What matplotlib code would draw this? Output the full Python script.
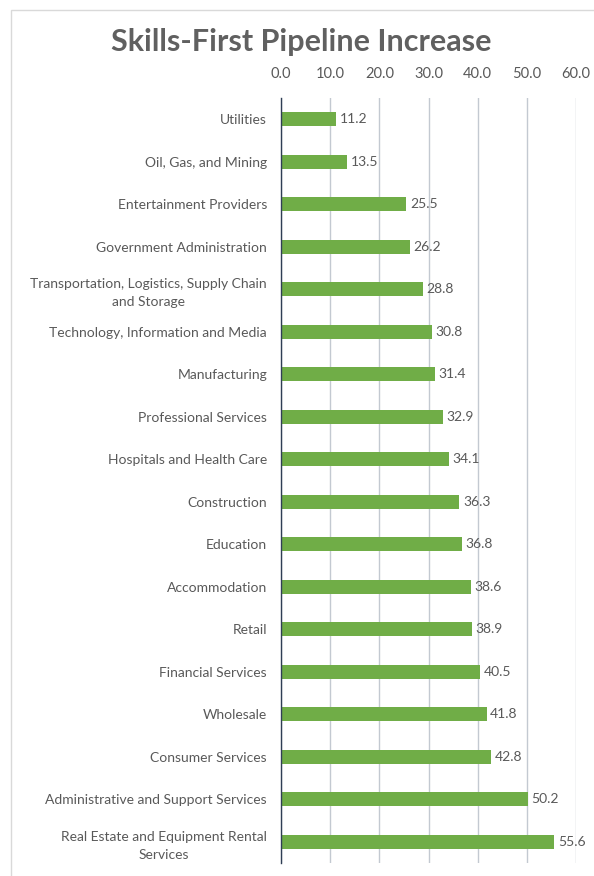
import matplotlib.pyplot as plt
from matplotlib.patches import Rectangle

# data, top to bottom as in the picture
industries = [
    "Utilities",
    "Oil, Gas, and Mining",
    "Entertainment Providers",
    "Government Administration",
    "Transportation, Logistics, Supply Chain\nand Storage",
    "Technology, Information and Media",
    "Manufacturing",
    "Professional Services",
    "Hospitals and Health Care",
    "Construction",
    "Education",
    "Accommodation",
    "Retail",
    "Financial Services",
    "Wholesale",
    "Consumer Services",
    "Administrative and Support Services",
    "Real Estate and Equipment Rental\nServices",
]
increase = [11.2, 13.5, 25.5, 26.2, 28.8, 30.8, 31.4, 32.9, 34.1,
            36.3, 36.8, 38.6, 38.9, 40.5, 41.8, 42.8, 50.2, 55.6]
x_ticks = [0, 10, 20, 30, 40, 50, 60]

plt.rcParams['font.family'] = ['Lato', 'DejaVu Sans']
text_col = '#595959'

W, H = 594, 876
fig = plt.figure(figsize=(W / 100, H / 100), dpi=100)
ax = fig.add_axes([281 / W, 1 - 863 / H, (576 - 281) / W, (863 - 98) / H])

pos = list(range(len(industries)))
ax.barh(pos, increase, height=0.33, color='#70ad47', zorder=3)
ax.set_ylim(len(industries) - 0.5, -0.5)
ax.set_xlim(0, 60)

for p, v in zip(pos, increase):
    ax.text(v + 0.7, p, f"{v:.1f}", va='center', ha='left',
            fontsize=10, color=text_col, zorder=4)

ax.set_yticks(pos)
ax.set_yticklabels(industries, fontsize=10, color=text_col,
                   multialignment='center', linespacing=1.6)
ax.tick_params(axis='y', length=0, pad=10)

ax.xaxis.tick_top()
ax.set_xticks(x_ticks)
ax.set_xticklabels([f"{t:.1f}" for t in x_ticks], fontsize=10.5, color=text_col)
ax.tick_params(axis='x', length=0, pad=12)

ax.grid(axis='x', color='#c3c9d1', linewidth=1, zorder=0)
for s in ['top', 'right', 'bottom']:
    ax.spines[s].set_visible(False)
ax.spines['left'].set_color('#2f3e55')
ax.spines['left'].set_linewidth(1)
ax.spines['left'].set_zorder(5)

fig.text(301 / W, 1 - 42 / H, "Skills-First Pipeline Increase", ha='center',
         va='center', fontsize=22, color='#606060', fontweight='bold')

# outer chart border
fig.patches.append(Rectangle((11 / W, -0.1), 1.2, 1 - 10 / H + 0.1,
                             transform=fig.transFigure, fill=False,
                             edgecolor='#d9d9d9', linewidth=1))

fig.savefig('out.png', dpi=100)
